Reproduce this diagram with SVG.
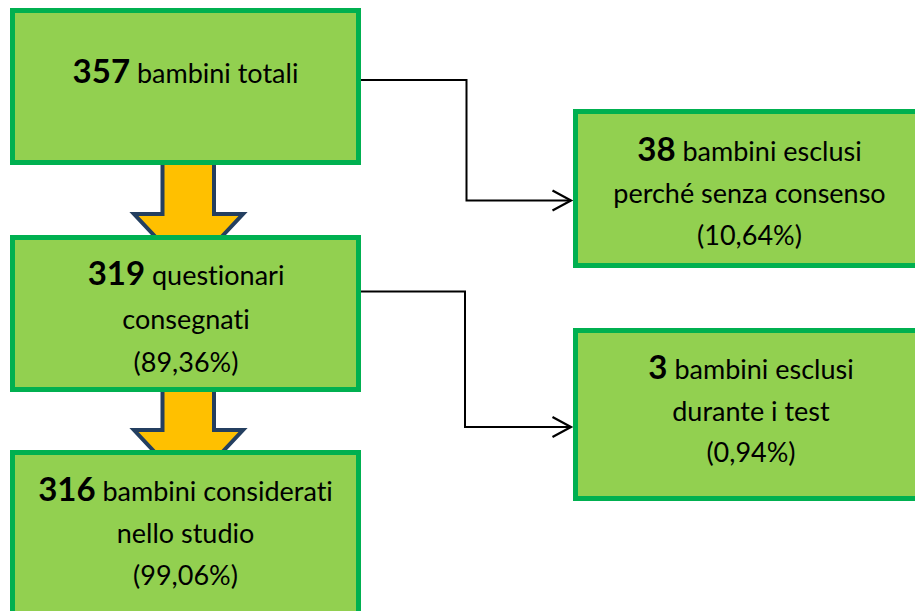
<svg xmlns="http://www.w3.org/2000/svg" width="915" height="611" viewBox="0 0 915 611">
<style>
.box{fill:#92D050;stroke:#00B050;stroke-width:5}
.blk{fill:#FFC000;stroke:#243F60;stroke-width:4;stroke-linejoin:miter}
.con{fill:none;stroke:#000;stroke-width:2}
text{font-family:Lato,"Open Sans",sans-serif;font-size:27px;fill:#000;text-anchor:middle;font-variant-ligatures:none;font-feature-settings:"liga" 0,"clig" 0}
.n{font-weight:bold;font-size:33px}
</style>
<defs>
<marker id="chev" markerUnits="userSpaceOnUse" markerWidth="24" markerHeight="24" viewBox="-20 -12 24 24" refX="0" refY="0" orient="auto">
<path d="M-18.5,-10 L0,0 L-18.5,10" fill="none" stroke="#000" stroke-width="2.2"/>
</marker>
</defs>
<g id="arrows">
<polygon class="blk" points="162.5,150 214,150 214,214 243,214 188.5,272 134,214 162.5,214"/>
<polygon class="blk" points="162.5,380 214,380 214,430 243,430 188.5,488 134,430 162.5,430"/>
</g>
<g id="connectors">
<path class="con" d="M358,80 H466.5 V200.5 H571" marker-end="url(#chev)"/>
<path class="con" d="M358,291.5 H465 V427 H571" marker-end="url(#chev)"/>
</g>
<g id="n1">
<rect class="box" x="12.5" y="10.5" width="346" height="152"/>
<text x="185.5" y="83"><tspan class="n">357</tspan> bambini totali</text>
</g>
<g id="n2">
<rect class="box" x="12.5" y="237.5" width="346" height="152"/>
<text x="186" y="285"><tspan class="n">319</tspan> questionari</text>
<text x="186" y="329">consegnati</text>
<text x="186" y="372">(89,36%)</text>
</g>
<g id="n3">
<rect class="box" x="12.5" y="452.5" width="346" height="170"/>
<text x="185.5" y="501"><tspan class="n">316</tspan> bambini considerati</text>
<text x="185.5" y="543">nello studio</text>
<text x="185.5" y="585">(99,06%)</text>
</g>
<g id="n4">
<rect class="box" x="575.5" y="111.5" width="350" height="154"/>
<text x="749.5" y="161"><tspan class="n">38</tspan> bambini esclusi</text>
<text x="749.5" y="203">perché senza consenso</text>
<text x="749.5" y="245">(10,64%)</text>
</g>
<g id="n5">
<rect class="box" x="575.5" y="330.5" width="350" height="168"/>
<text x="751" y="379"><tspan class="n">3</tspan> bambini esclusi</text>
<text x="751" y="421">durante i test</text>
<text x="751" y="462">(0,94%)</text>
</g>
</svg>
